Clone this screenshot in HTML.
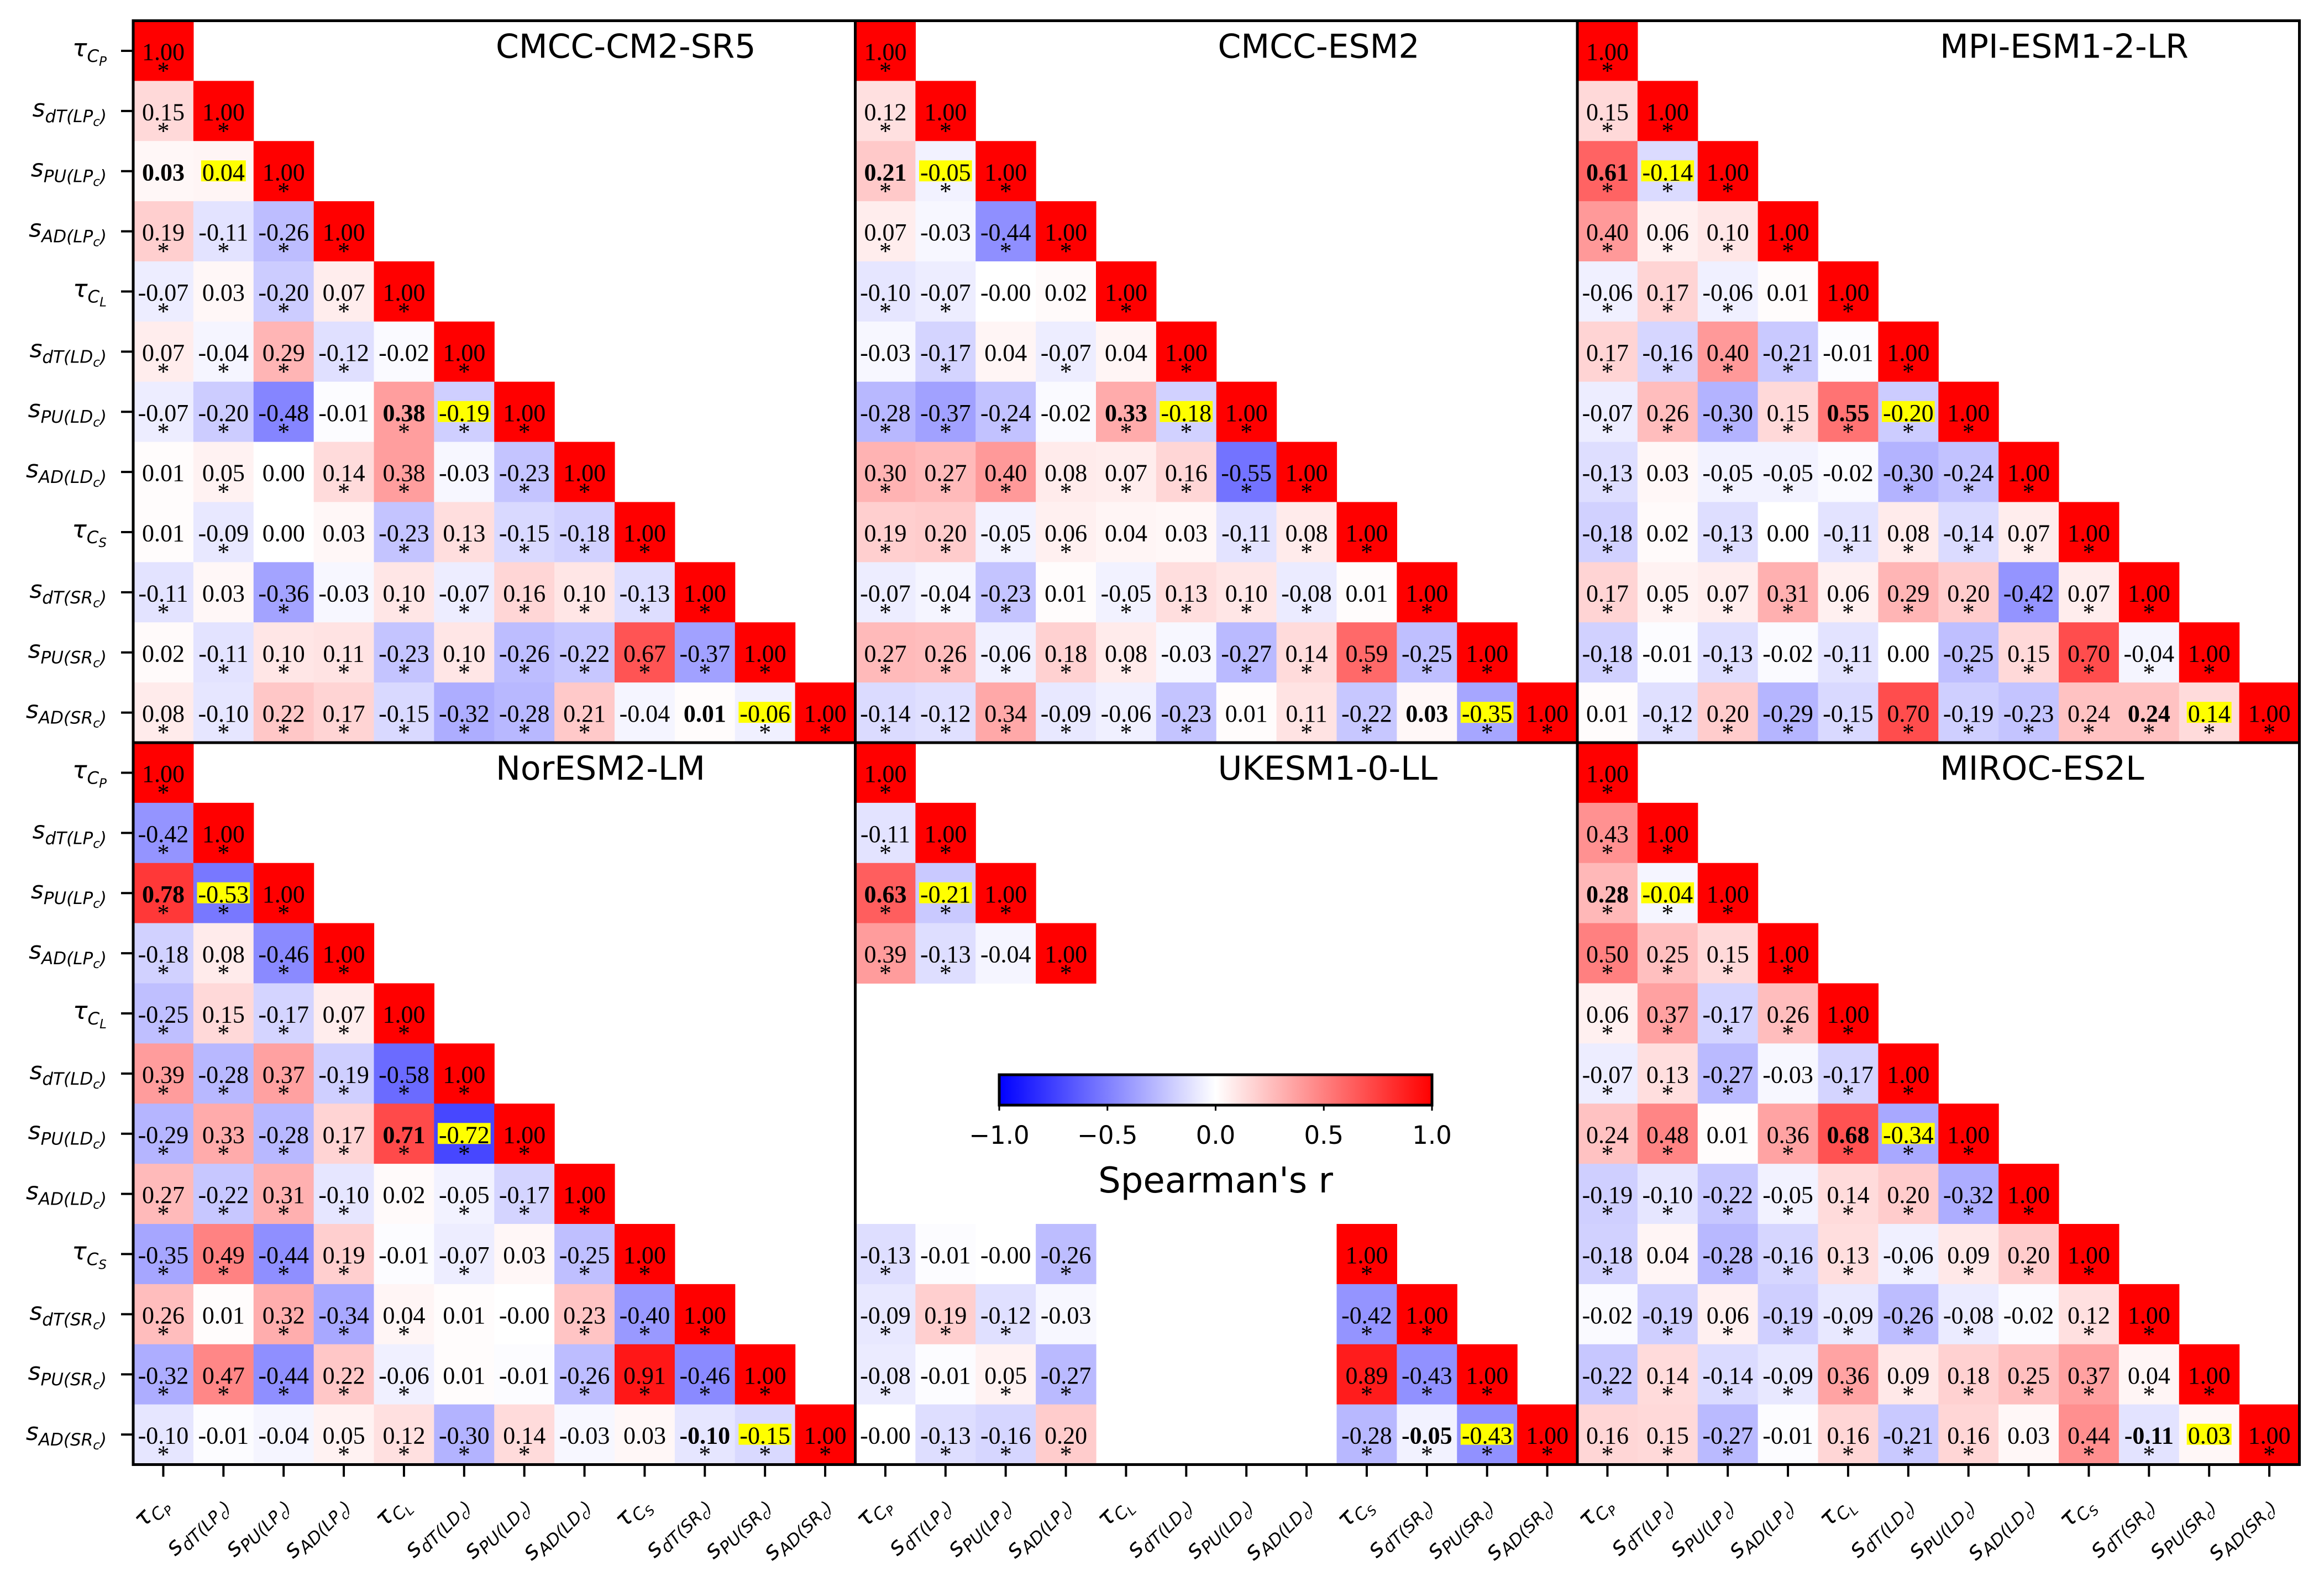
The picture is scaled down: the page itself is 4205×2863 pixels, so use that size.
<!DOCTYPE html>
<html><head><meta charset="utf-8"><style>
html,body{margin:0;padding:0;background:#fff;}
svg{display:block;}
</style></head><body>
<svg id="fig" xmlns="http://www.w3.org/2000/svg" width="4205" height="2863" viewBox="0 0 4205 2863">
<rect x="0" y="0" width="4205" height="2863" fill="#fff"/>
<defs>
<linearGradient id="bwr" x1="0" x2="1" y1="0" y2="0">
<stop offset="0" stop-color="#0000ff"/><stop offset="0.5" stop-color="#ffffff"/><stop offset="1" stop-color="#ff0000"/>
</linearGradient>
</defs>
<g id="panels"></g>
<g id="colorbar">
<rect x="1808" y="1945" width="783" height="55" fill="url(#bwr)" stroke="#000" stroke-width="5"/>
</g>
</svg>
<script>
const modelNames = ["CMCC-CM2-SR5","CMCC-ESM2","MPI-ESM1-2-LR","NorESM2-LM","UKESM1-0-LL","MIROC-ES2L"];
const varLabels = [
 [["τ",0],["C",1],["P",2]],
 [["s",0],["dT(LP",1],["c",2],[")",1]],
 [["s",0],["PU(LP",1],["c",2],[")",1]],
 [["s",0],["AD(LP",1],["c",2],[")",1]],
 [["τ",0],["C",1],["L",2]],
 [["s",0],["dT(LD",1],["c",2],[")",1]],
 [["s",0],["PU(LD",1],["c",2],[")",1]],
 [["s",0],["AD(LD",1],["c",2],[")",1]],
 [["τ",0],["C",1],["S",2]],
 [["s",0],["dT(SR",1],["c",2],[")",1]],
 [["s",0],["PU(SR",1],["c",2],[")",1]],
 [["s",0],["AD(SR",1],["c",2],[")",1]]
];
// lower-triangle values (diagonal = 1.00*), '*' = significant, 'n' = missing
const cmccCm2 = [
 "0.15*","0.03 0.04","0.19* -0.11* -0.26*","-0.07* 0.03 -0.20* 0.07*",
 "0.07* -0.04* 0.29* -0.12* -0.02","-0.07* -0.20* -0.48* -0.01 0.38* -0.19*",
 "0.01 0.05* 0.00 0.14* 0.38* -0.03 -0.23*","0.01 -0.09* 0.00 0.03 -0.23* 0.13* -0.15* -0.18*",
 "-0.11* 0.03 -0.36* -0.03 0.10* -0.07* 0.16* 0.10* -0.13*",
 "0.02 -0.11* 0.10* 0.11* -0.23* 0.10* -0.26* -0.22* 0.67* -0.37*",
 "0.08* -0.10* 0.22* 0.17* -0.15* -0.32* -0.28* 0.21* -0.04 0.01 -0.06*"];
const cmccEsm2 = [
 "0.12*","0.21* -0.05*","0.07* -0.03 -0.44*","-0.10* -0.07* -0.00 0.02",
 "-0.03 -0.17* 0.04 -0.07* 0.04","-0.28* -0.37* -0.24* -0.02 0.33* -0.18*",
 "0.30* 0.27* 0.40* 0.08* 0.07* 0.16* -0.55*","0.19* 0.20* -0.05* 0.06* 0.04 0.03 -0.11* 0.08*",
 "-0.07* -0.04* -0.23* 0.01 -0.05* 0.13* 0.10* -0.08* 0.01",
 "0.27* 0.26* -0.06* 0.18* 0.08* -0.03 -0.27* 0.14* 0.59* -0.25*",
 "-0.14* -0.12* 0.34* -0.09* -0.06* -0.23* 0.01 0.11* -0.22* 0.03 -0.35*"];
const mpiEsm = [
 "0.15*","0.61* -0.14*","0.40* 0.06* 0.10*","-0.06* 0.17* -0.06* 0.01",
 "0.17* -0.16* 0.40* -0.21* -0.01","-0.07* 0.26* -0.30* 0.15* 0.55* -0.20*",
 "-0.13* 0.03 -0.05* -0.05* -0.02 -0.30* -0.24*","-0.18* 0.02 -0.13* 0.00 -0.11* 0.08* -0.14* 0.07*",
 "0.17* 0.05* 0.07* 0.31* 0.06* 0.29* 0.20* -0.42* 0.07*",
 "-0.18* -0.01 -0.13* -0.02 -0.11* 0.00 -0.25* 0.15* 0.70* -0.04*",
 "0.01 -0.12* 0.20* -0.29* -0.15* 0.70* -0.19* -0.23* 0.24* 0.24* 0.14*"];
const norEsm = [
 "-0.42*","0.78* -0.53*","-0.18* 0.08* -0.46*","-0.25* 0.15* -0.17* 0.07*",
 "0.39* -0.28* 0.37* -0.19* -0.58*","-0.29* 0.33* -0.28* 0.17* 0.71* -0.72*",
 "0.27* -0.22* 0.31* -0.10* 0.02 -0.05* -0.17*","-0.35* 0.49* -0.44* 0.19* -0.01 -0.07* 0.03 -0.25*",
 "0.26* 0.01 0.32* -0.34* 0.04* 0.01 -0.00 0.23* -0.40*",
 "-0.32* 0.47* -0.44* 0.22* -0.06* 0.01 -0.01 -0.26* 0.91* -0.46*",
 "-0.10* -0.01 -0.04 0.05* 0.12* -0.30* 0.14* -0.03 0.03 -0.10* -0.15*"];
const ukEsm = [
 "-0.11*","0.63* -0.21*","0.39* -0.13* -0.04","n n n n","n n n n n","n n n n n n","n n n n n n n",
 "-0.13* -0.01 -0.00 -0.26* n n n n","-0.09* 0.19* -0.12* -0.03 n n n n -0.42*",
 "-0.08* -0.01 0.05* -0.27* n n n n 0.89* -0.43*",
 "-0.00 -0.13* -0.16* 0.20* n n n n -0.28* -0.05* -0.43*"];
const mirocEs = [
 "0.43*","0.28* -0.04*","0.50* 0.25* 0.15*","0.06* 0.37* -0.17* 0.26*",
 "-0.07* 0.13* -0.27* -0.03 -0.17*","0.24* 0.48* 0.01 0.36* 0.68* -0.34*",
 "-0.19* -0.10* -0.22* -0.05* 0.14* 0.20* -0.32*","-0.18* 0.04 -0.28* -0.16* 0.13* -0.06* 0.09* 0.20*",
 "-0.02 -0.19* 0.06* -0.19* -0.09* -0.26* -0.08* -0.02 0.12*",
 "-0.22* 0.14* -0.14* -0.09* 0.36* 0.09* 0.18* 0.25* 0.37* 0.04*",
 "0.16* 0.15* -0.27* -0.01 0.16* -0.21* 0.16* 0.03 0.44* -0.11* 0.03"];
const missingVars = [[],[],[],[],[4,5,6,7],[]];
const boldCells = [[2,0],[6,4],[11,9]];
const yellowCells = [[2,1],[6,5],[11,10]];
const cbTicks = [-1.0,-0.5,0.0,0.5,1.0];
const cbTickLabels = ["−1.0","−0.5","0.0","0.5","1.0"];
const allData = [cmccCm2,cmccEsm2,mpiEsm,norEsm,ukEsm,mirocEs];

const NS="http://www.w3.org/2000/svg";
const PX0=241, PY0=37.5, PW=1306.5, N=12, CELL=PW/N;
function mk(tag,attrs,parent){const e=document.createElementNS(NS,tag);for(const k in attrs)e.setAttribute(k,attrs[k]);if(parent)parent.appendChild(e);return e;}
function color(v){
  if(v<0){const c=Math.round(255*(1+v));return `rgb(${c},${c},255)`;}
  const c=Math.round(255*(1-v));return `rgb(255,${c},${c})`;
}
function cellX(col,j){return PX0+col*PW+j*CELL;}
function cellY(row,i){return PY0+row*PW+i*CELL;}
function isIn(list,i,j){return list.some(p=>p[0]===i&&p[1]===j);}
function labelText(parent,spec,attrs){
  const t=mk('text',attrs,parent);
  const sizes=[44,31,23], shifts=[0,10,17];
  let cur=0;
  spec.forEach(([s,l])=>{
    const ts=mk('tspan',{'font-size':sizes[l],dy:shifts[l]-cur},t);
    ts.textContent=s;cur=shifts[l];
  });
  return t;
}
const panelsG=document.getElementById('panels');
allData.forEach((rows,p)=>{
  const col=p%3,row=Math.floor(p/3);
  const g=mk('g',{},panelsG);
  
  
  const miss=missingVars[p];
  for(let i=0;i<N;i++){
    const toks=i===0?[]:rows[i-1].trim().split(/\s+/);
    for(let j=0;j<=i;j++){
      if(miss.includes(i)||miss.includes(j))continue;
      let tok=j===i?"1.00*":toks[j];
      if(!tok||tok==='n')continue;
      const star=tok.endsWith('*');
      const vs=tok.replace('*','');
      const v=parseFloat(vs);
      const x=cellX(col,j),y=cellY(row,i);
      const r=mk('rect',{x:x,y:y,width:CELL+0.6,height:CELL+0.6,fill:color(v)},g);
      
      
      const bold=isIn(boldCells,i,j), yel=isIn(yellowCells,i,j);
      const cx=x+CELL/2;
      let bg=null;
      if(yel){bg=mk('rect',{y:y+35,height:38,fill:'#ffff00'},g);}
      const t=mk('text',{x:cx,y:y+71,'text-anchor':'middle','font-family':'"Liberation Serif",serif','font-size':44,'font-weight':bold?'bold':'normal',fill:'#000'},g);
      t.textContent=vs;
      
      
      if(bg){const w=t.getComputedTextLength()+4;bg.setAttribute('x',cx-w/2);bg.setAttribute('width',w);}
      if(star){
        const s=mk('text',{x:cx,y:y+105,'text-anchor':'middle','font-family':'"Liberation Serif",serif','font-size':44,fill:'#000'},g);
        s.textContent='*';
        
        
      }
    }
  }
  const bx=PX0+col*PW,by=PY0+row*PW;
  const border=mk('rect',{x:bx,y:by,width:PW,height:PW,fill:'none',stroke:'#000','stroke-width':5},g);
  
  
  const tt=mk('text',{x:bx+656,y:by+67,'font-family':'"DejaVu Sans",sans-serif','font-size':60,fill:'#000'},g);
  tt.textContent=modelNames[p];
  
  
  if(col===0){
    for(let i=0;i<N;i++){
      const yc=by+i*CELL+CELL/2;
      const tk=mk('line',{x1:bx-22,x2:bx,y1:yc,y2:yc,stroke:'#000','stroke-width':4},g);
      
      
      const lt=labelText(g,varLabels[i],{x:bx-48,y:yc+10,'text-anchor':'end','font-family':'"DejaVu Sans",sans-serif','font-style':'italic',fill:'#000'});
      
      
    }
  }
  if(row===1){
    for(let j=0;j<N;j++){
      const xc=bx+j*CELL+CELL/2, yb=by+PW;
      const tk=mk('line',{x1:xc,x2:xc,y1:yb,y2:yb+22,stroke:'#000','stroke-width':4},g);
      
      
      const lt=labelText(g,varLabels[j],{x:0,y:0,'text-anchor':'end','font-family':'"DejaVu Sans",sans-serif','font-style':'italic',fill:'#000',transform:`translate(${xc+8},${yb+72}) rotate(-45)`});
      
      
    }
  }
});
// colorbar ticks
const cb=document.getElementById('colorbar');
const cbX0=1808,cbW=783;
function cbx(v){return cbX0+(v+1)/2*cbW;}
cbTicks.forEach((v,k)=>{
  const tk=mk('line',{x1:cbx(v),x2:cbx(v),y1:2000,y2:2010,stroke:'#000','stroke-width':3},cb);
  
  
  const t=mk('text',{x:cbx(v),y:2070,'text-anchor':'middle','font-family':'"DejaVu Sans",sans-serif','font-size':45,fill:'#000'},cb);
  t.textContent=cbTickLabels[k];
  
  
});
const cbt=mk('text',{x:cbx(0),y:2158,'text-anchor':'middle','font-family':'"DejaVu Sans",sans-serif','font-size':64,fill:'#000'},cb);
cbt.textContent="Spearman's r";


</script>
</body></html>
